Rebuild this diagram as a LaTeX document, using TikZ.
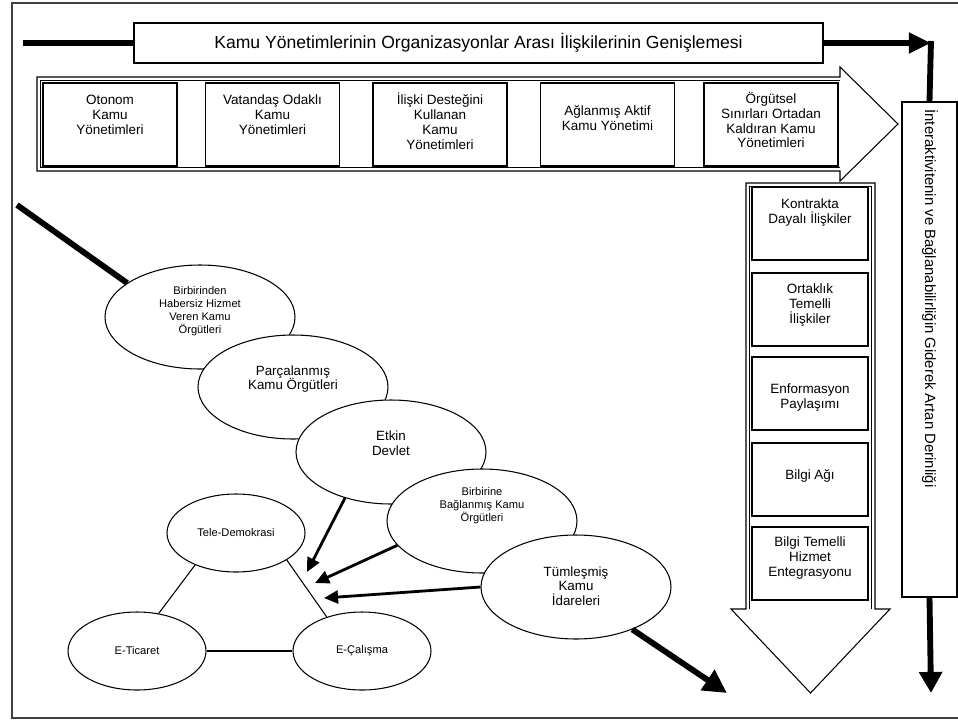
\documentclass[tikz,border=0pt]{standalone}
\usepackage{fontspec}
\setmainfont{Liberation Sans}
\usetikzlibrary{positioning}
\usetikzlibrary{arrows.meta}
\usetikzlibrary{shapes.geometric}
\usetikzlibrary{calc}

\newcommand{\fsz}[2]{\fontsize{#1}{#2}\selectfont}

\begin{document}
\begin{tikzpicture}[x=0.3mm,y=-0.3mm,line width=0.9pt,
  boxtext/.style={align=center,font=\fsz{11.5}{12.75}},
  topbox/.style={draw,line width=1.2pt,fill=white,minimum width=40.2mm,minimum height=24.9mm,inner sep=0pt},
  sidebox/.style={draw,line width=1.2pt,fill=white,minimum width=34.8mm,minimum height=21.9mm,inner sep=0pt},
  oval/.style={draw,ellipse,fill=white,inner sep=0pt,minimum width=57mm,minimum height=31.2mm},
  smalloval/.style={draw,ellipse,fill=white,inner sep=0pt,minimum width=41.4mm,minimum height=23.4mm,font=\fsz{9.5}{11}},
  ovaltext/.style={align=center,inner sep=0pt},
  inner/.style={line width=0.6pt},
  heavy/.style={line width=5pt},
  pointer/.style={line width=2.4pt,-{Triangle[length=12pt,width=11pt]}}]

  \useasboundingbox (0,0) rectangle (958,720);

  % frame
  \draw[black!75,line width=1pt] (965,3) -- (12,3) -- (12,718) -- (965,718);

  % title bar with its heavy line
  \node[draw,line width=1.2pt,fill=white,minimum width=206.7mm,minimum height=12mm,inner sep=0pt,font=\fsz{15}{18}] (title) at (478.5,43)
    {Kamu Yönetimlerinin Organizasyonlar Arası İlişkilerinin Genişlemesi};
  \coordinate (start) at (23,43);
  \coordinate (turn) at (931,43);
  \draw[heavy] (start) -- (title.west);
  \draw[heavy,-{Triangle[length=19pt,width=17pt]}] (title.east) -- (turn);

  % depth box on the right
  \node[draw,line width=1.2pt,fill=white,minimum width=16.5mm,minimum height=148.5mm,inner sep=0pt] (depth) at (929.5,349.5) {};
  \node[rotate=-90,anchor=west,inner sep=0pt,font=\fsz{12.7}{15}] (depthtext) at (930,109)
    {İnteraktivitenin ve Bağlanabilirliğin Giderek Artan Derinliği};
  \draw[heavy] ($(turn)+(0,-2)$) -- (depth.north);
  \coordinate (depthend) at (931,693);
  \draw[heavy,-{Triangle[length=18pt,width=19pt]}] (depth.south) -- (depthend);

  % block arrow to the right
  \draw[fill=white] (37,77) -- (840,77) -- (840,67) -- (898,124) -- (840,181) -- (840,171) -- (37,171) -- cycle;
  \draw[inner] (840,80.5) -- (40.5,80.5) -- (40.5,167.5) -- (840,167.5);

  \foreach \n/\x/\ty/\txt in {1/110/115/Otonom\\Kamu\\Yönetimleri,
                              2/272.5/115/Vatandaş Odaklı\\Kamu\\Yönetimleri,
                              3/440/121/İlişki Desteğini\\Kullanan\\Kamu\\Yönetimleri,
                              4/607.5/118.5/Ağlanmış Aktif\\Kamu Yönetimi,
                              5/771/120/Örgütsel\\Sınırları Ortadan\\Kaldıran Kamu\\Yönetimleri}
    {\node[topbox] (a\n) at (\x,124.5) {};
     \node[boxtext] (at\n) at (\x,\ty) {\txt};}

  % block arrow downwards
  \draw[fill=white] (746,183) -- (875,183) -- (875,609) -- (890,609) -- (810.5,693) -- (731,609) -- (746,609) -- cycle;
  \draw[inner] (749.5,609) -- (749.5,186.5) -- (871.5,186.5) -- (871.5,609);

  \foreach \n/\y/\ty/\txt in {1/223.5/212.5/Kontrakta\\Dayalı İlişkiler,
                              2/309.5/305/Ortaklık\\Temelli\\İlişkiler,
                              3/393.5/397.5/Enformasyon\\Paylaşımı,
                              4/479.5/476/Bilgi Ağı,
                              5/563.5/558/Bilgi Temelli\\Hizmet\\Entegrasyonu}
    {\node[sidebox] (d\n) at (810,\y) {};
     \node[boxtext] (dt\n) at (810,\ty) {\txt};}

  % chain of stages
  \foreach \n/\x/\y/\ty/\fs/\bs/\txt in {1/200/317/311/9.5/11/Birbirinden\\Habersiz Hizmet\\Veren Kamu\\Örgütleri,
                                          2/293/387/379/11.4/12.5/Parçalanmış\\Kamu Örgütleri,
                                          3/391/452/443/11.4/12.5/Etkin\\Devlet,
                                          4/482/521/506/9.5/11/Birbirine\\Bağlanmış Kamu\\Örgütleri,
                                          5/576/587/586/11.4/12.5/Tümleşmiş\\Kamu\\İdareleri}
    {\node[oval] (e\n) at (\x,\y) {};
     \node[ovaltext,font=\fsz{\fs}{\bs}] (et\n) at (\x,\ty) {\txt};}

  \coordinate (in) at (17,205);
  \draw[heavy] (in) -- (e1.155);
  \coordinate (out) at (727,693);
  \draw[heavy,-{Triangle[length=20pt,width=20pt]}] (e5.-37) -- (out);

  % triangle
  \node[smalloval] (tele) at (236,533) {Tele-Demokrasi};
  \node[smalloval] (ticaret) at (137,651) {E-Ticaret};
  \node[smalloval] (calisma) at (362,651) {E-Çalışma};
  \draw (tele.-142) -- (ticaret.60);
  \draw (tele.-28) -- (calisma.136);
  \draw (ticaret) -- (calisma);

  \coordinate (p1) at (307,572);
  \coordinate (p2) at (315,583);
  \coordinate (p3) at (324,598);
  \draw[pointer] (e3.-135) -- (p1);
  \draw[pointer] (e4.-164) -- (p2);
  \draw[pointer] (e5.west) -- (p3);
\end{tikzpicture}
\end{document}
